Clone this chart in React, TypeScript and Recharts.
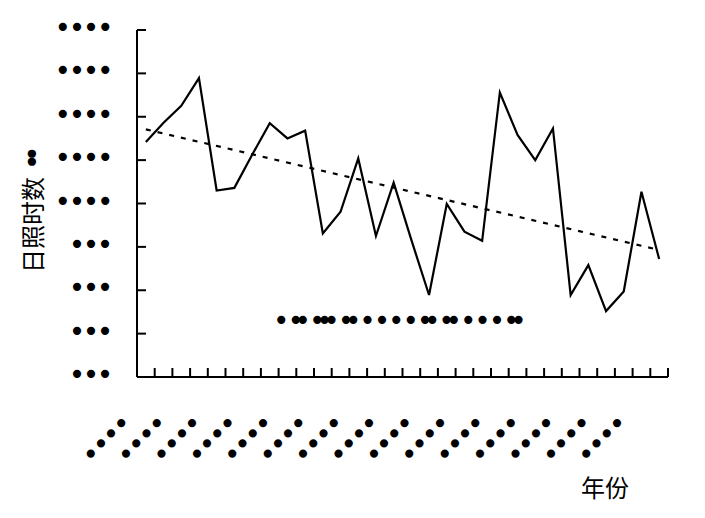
import React from 'react';
import { LineChart, Line, XAxis, YAxis, Legend } from 'recharts';

// Categories: 30 consecutive years (their printed labels are masked in the source as dots)
const years = [
  '1981', '1982', '1983', '1984', '1985', '1986', '1987', '1988', '1989', '1990',
  '1991', '1992', '1993', '1994', '1995', '1996', '1997', '1998', '1999', '2000',
  '2001', '2002', '2003', '2004', '2005', '2006', '2007', '2008', '2009', '2010',
];

// Annual sunshine hours
const sunshineHours = [
  1142, 1186, 1225, 1289, 1030, 1036, 1112, 1185, 1150, 1168,
  931, 981, 1104, 925, 1048, 916, 789, 999, 935, 914,
  1256, 1158, 1100, 1173, 789, 858, 752, 797, 1027, 872,
];

// Linear trend line: value at the first and at the last year
const trendStart = 1171;
const trendEnd = 893;

// Y axis ticks and their (masked) labels
const yTicks = [600, 700, 800, 900, 1000, 1100, 1200, 1300, 1400];
const yTickLabels = ['•••', '•••', '•••', '•••', '••••', '••••', '••••', '••••', '••••'];

// X tick boundaries and the (masked) label shown at every other boundary
const xTicks = [0, 1, 2, 3, 4, 5, 6, 7, 8, 9, 10, 11, 12, 13, 14, 15, 16, 17, 18, 19, 20, 21, 22, 23, 24, 25, 26, 27, 28, 29, 30];
const xTickLabels = ['••••', '••••', '••••', '••••', '••••', '••••', '••••', '••••', '••••', '••••', '••••', '••••', '••••', '••••', '••••'];

const yTitleMain = '日照时数';
const yTitleUnit = '••';
const xTitle = '年份';
const legendText = '• •• ••• •• • • • • •• •• • • • ••';

const data = years.map((year, i) => ({
  pos: i + 0.5,
  year,
  hours: sunshineHours[i],
  trend: i === 0 ? trendStart : i === years.length - 1 ? trendEnd : null,
}));

const DOT_FONT = '"DejaVu Sans", sans-serif';
const CJK_FONT = '"Noto Sans CJK SC", sans-serif';
const DOT_SIZE = 28;

const YTick = (props: any) => {
  const { x, y, payload } = props;
  const idx = yTicks.indexOf(payload.value);
  return (
    <g>
      <line x1={x} y1={y} x2={x + 9} y2={y} stroke="#000" strokeWidth={2} />
      <text
        x={x - 26}
        y={y + 7}
        textAnchor="end"
        fontFamily={DOT_FONT}
        fontSize={DOT_SIZE}
        letterSpacing={-2.4}
        fill="#000"
      >
        {yTickLabels[idx]}
      </text>
    </g>
  );
};

const XTick = (props: any) => {
  const { x, y, payload } = props;
  const k = payload.value;
  const showLabel = k % 2 === 0 && k < 30;
  const lx = x - 4;
  const ly = y + 49;
  return (
    <g>
      {k > 0 && <line x1={x} y1={y} x2={x} y2={y - 9} stroke="#000" strokeWidth={2} />}
      {showLabel && (
        <text
          x={lx}
          y={ly}
          transform={`rotate(-45 ${lx} ${ly})`}
          textAnchor="end"
          fontFamily={DOT_FONT}
          fontSize={DOT_SIZE}
          letterSpacing={-2.1}
          fill="#000"
        >
          {xTickLabels[k / 2]}
        </text>
      )}
    </g>
  );
};

const YTitle = (props: any) => {
  const vb = props.viewBox || { x: 0, y: 30, width: 137, height: 347 };
  const tx = vb.x + 42;
  const ty = vb.y + 243;
  return (
    <text
      x={tx}
      y={ty}
      transform={`rotate(-90 ${tx} ${ty})`}
      textAnchor="start"
      fontSize={24}
      fill="#000"
      fontFamily={CJK_FONT}
    >
      <tspan fontFamily={CJK_FONT}>{yTitleMain}</tspan>
      <tspan dx={7} fontFamily={DOT_FONT} fontSize={DOT_SIZE} letterSpacing={-8.4}>
        {yTitleUnit}
      </tspan>
    </text>
  );
};

const XTitle = (props: any) => {
  const vb = props.viewBox || { x: 137, y: 377, width: 531, height: 141 };
  return (
    <text
      x={vb.x + vb.width - 63}
      y={vb.y + 120}
      textAnchor="middle"
      fontSize={24}
      fill="#000"
      fontFamily={CJK_FONT}
    >
      {xTitle}
    </text>
  );
};

const LegendDots = () => (
  <div
    style={{
      display: 'flex',
      fontFamily: DOT_FONT,
      fontSize: DOT_SIZE,
      lineHeight: `${DOT_SIZE}px`,
      whiteSpace: 'nowrap',
    }}
  >
    {legendText.split('').map((c, i) => (
      <span key={i} style={{ display: 'inline-block', width: 7.2, flexShrink: 0, overflow: 'visible' }}>
        {c === ' ' ? '\u00a0' : c}
      </span>
    ))}
  </div>
);

export default function App() {
  return (
    <div style={{ position: 'absolute', left: 0, top: 0, width: 705, height: 518, background: '#fff' }}>
      <LineChart width={705} height={518} data={data} margin={{ top: 30, right: 37, bottom: 0, left: 0 }}>
        <XAxis
          dataKey="pos"
          type="number"
          domain={[0, 30]}
          ticks={xTicks}
          interval={0}
          height={141}
          tickSize={0}
          tickMargin={0}
          tickLine={false}
          axisLine={{ stroke: '#000', strokeWidth: 2 }}
          tick={<XTick />}
          label={<XTitle />}
        />
        <YAxis
          type="number"
          domain={[600, 1400]}
          ticks={yTicks}
          interval={0}
          width={137}
          tickSize={0}
          tickMargin={0}
          tickLine={false}
          axisLine={{ stroke: '#000', strokeWidth: 2 }}
          tick={<YTick />}
          label={<YTitle />}
        />
        <Legend
          layout="horizontal"
          verticalAlign="middle"
          align="center"
          content={() => <LegendDots />}
          wrapperStyle={{ position: 'absolute', left: 273, top: 307, width: 'auto', height: 28 }}
        />
        <Line
          type="linear"
          dataKey="hours"
          name="日照时数"
          stroke="#000"
          strokeWidth={2.2}
          dot={false}
          isAnimationActive={false}
        />
        <Line
          type="linear"
          dataKey="trend"
          name="线性(日照时数)"
          stroke="#000"
          strokeWidth={2.2}
          strokeDasharray="5 7"
          dot={false}
          connectNulls
          isAnimationActive={false}
        />
      </LineChart>
    </div>
  );
}
